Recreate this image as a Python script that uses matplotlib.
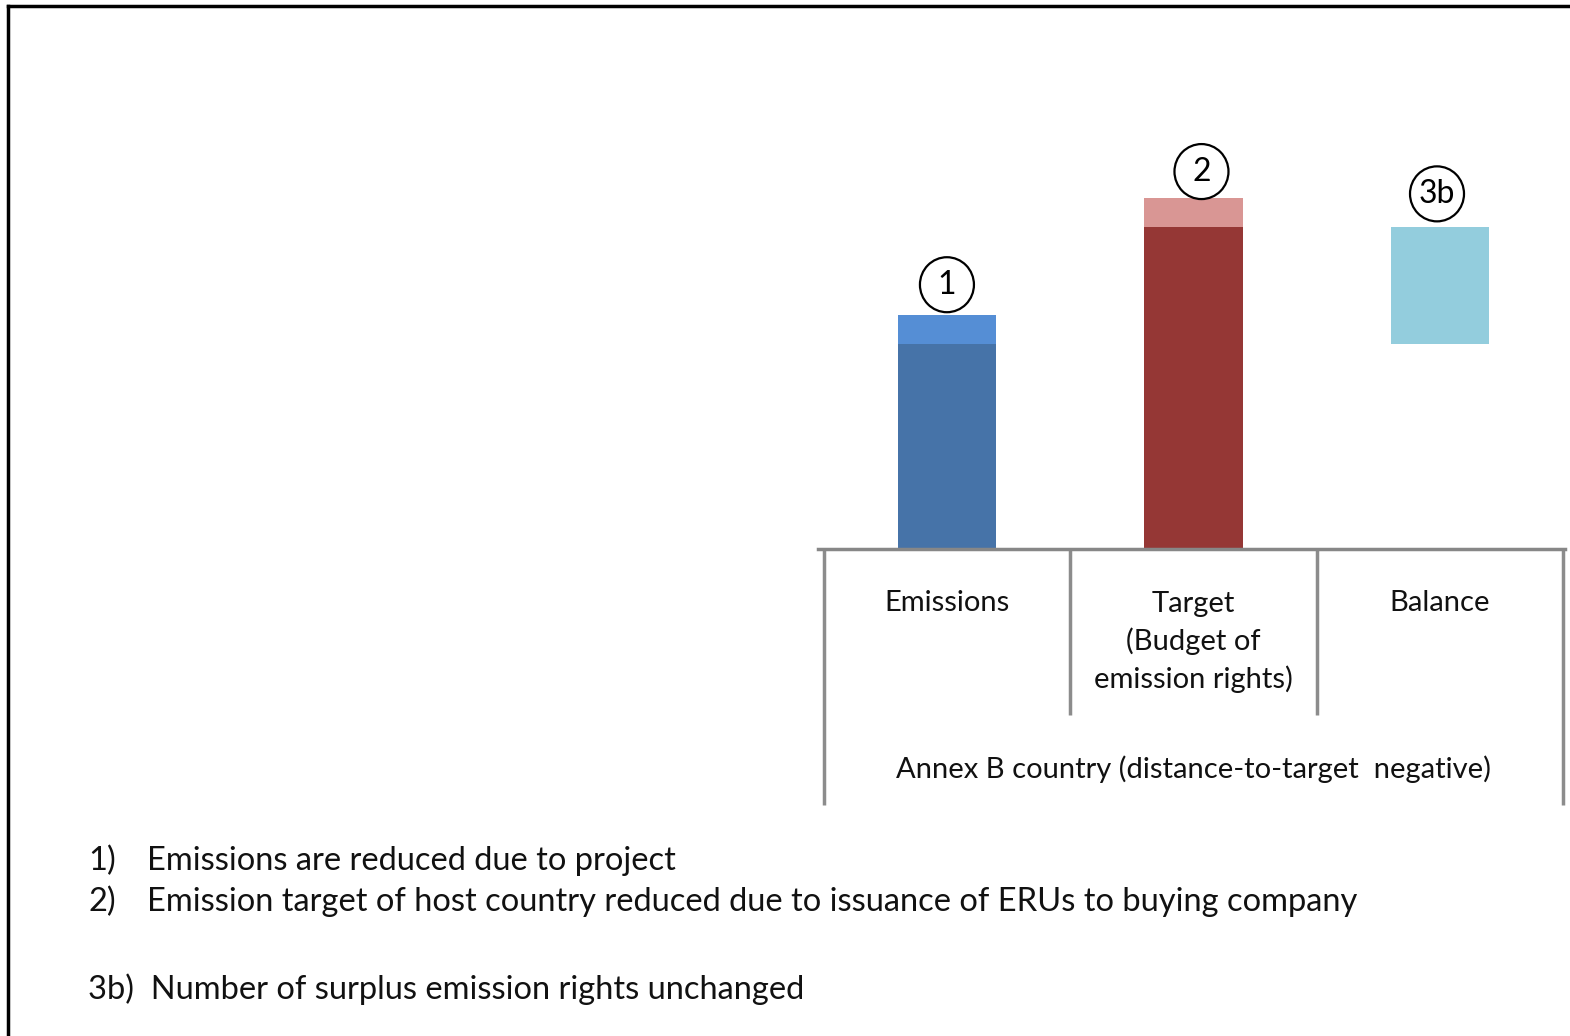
import matplotlib
matplotlib.use('Agg')
import matplotlib.pyplot as plt
from matplotlib.patches import Ellipse
from matplotlib.lines import Line2D

plt.rcParams['font.family'] = ['Lato', 'DejaVu Sans']

categories = ['Emissions', 'Target\n(Budget of\nemission rights)', 'Balance']
group_label = 'Annex B country (distance-to-target  negative)'

# stacked bar values (arbitrary units)
emissions_remaining = 70
emissions_reduced = 10
target_remaining = 110
target_reduced = 10
balance_bottom = 70
balance_height = 40

markers = ['1', '2', '3b']

notes = [('1)', 'Emissions are reduced due to project'),
         ('2)', 'Emission target of host country reduced due to issuance of ERUs to buying company')]
note3 = '3b)  Number of surplus emission rights unchanged'

W, H = 1570, 1036
fig = plt.figure(figsize=(W / 100, H / 100), dpi=100)

def fx(px):
    return px / W

def fy(py):
    return 1 - py / H

ax = fig.add_axes([fx(818), fy(549), fx(1565) - fx(818), fy(139) - fy(549)])
ax.set_xlim(-0.523, 2.507)
ax.set_ylim(0, 140)
for s in ['top', 'right', 'left']:
    ax.spines[s].set_visible(False)
ax.spines['bottom'].set_color('#878787')
ax.spines['bottom'].set_linewidth(2.5)
ax.set_xticks([])
ax.set_yticks([])

bw = 0.4
ax.bar(0, emissions_remaining, bw, color='#4673a8')
ax.bar(0, emissions_reduced, bw, bottom=emissions_remaining, color='#558ed5')
ax.bar(1, target_remaining, bw, color='#953735')
ax.bar(1, target_reduced, bw, bottom=target_remaining, color='#d99694')
ax.bar(2, balance_height, bw, bottom=balance_bottom, color='#93cddd')

# category separators below the axis
trans = ax.get_xaxis_transform()
ah_px = 549 - 139
for xe, depth in [(-0.5, 256), (0.5, 166), (1.5, 166), (2.5, 256)]:
    ax.plot([xe, xe], [0, -depth / ah_px], transform=trans, color='#8c8c8c',
            lw=2.5, clip_on=False, solid_capstyle='butt')

line_px = 38.5
for i, lab in enumerate(categories):
    nl = lab.count('\n')
    base = 611 + nl * line_px
    ax.text(i, -(base - 549) / ah_px, lab, transform=trans, ha='center', va='baseline',
            fontsize=21, linespacing=1.47, color='#111111')
ax.text(1, -(778 - 549) / ah_px, group_label, transform=trans, ha='center',
        va='baseline', fontsize=21, color='#111111')

# circled markers
ppx = 246.5
ppy = ah_px / 140
tops = [emissions_remaining + emissions_reduced, target_remaining + target_reduced,
        balance_bottom + balance_height]
dxs = [0, 8, -3]
dys = [30, 26, 33]
for i, (m, t) in enumerate(zip(markers, tops)):
    cx = i + dxs[i] / ppx
    cy = t + dys[i] / ppy
    ax.add_patch(Ellipse((cx, cy), 54 / ppx, 55 / ppy, fill=False, ec='black',
                         lw=1.6, clip_on=False))
    ax.text(cx, cy, m, ha='center', va='center', fontsize=23, color='black')

# notes
for (num, txt), base in zip(notes, [870, 911]):
    fig.text(fx(88), fy(base), num, ha='left', va='baseline', fontsize=23.5, color='#111111')
    fig.text(fx(147), fy(base), txt, ha='left', va='baseline', fontsize=23.5, color='#111111')
fig.text(fx(88), fy(999), note3, ha='left', va='baseline', fontsize=23.5, color='#111111')

# outer frame (cut off at right and bottom)
fig.add_artist(Line2D([fx(8), 1], [fy(6), fy(6)], color='black', lw=2.5))
fig.add_artist(Line2D([fx(8), fx(8)], [fy(6), 0], color='black', lw=2.5))

fig.savefig('out.png', dpi=100)
